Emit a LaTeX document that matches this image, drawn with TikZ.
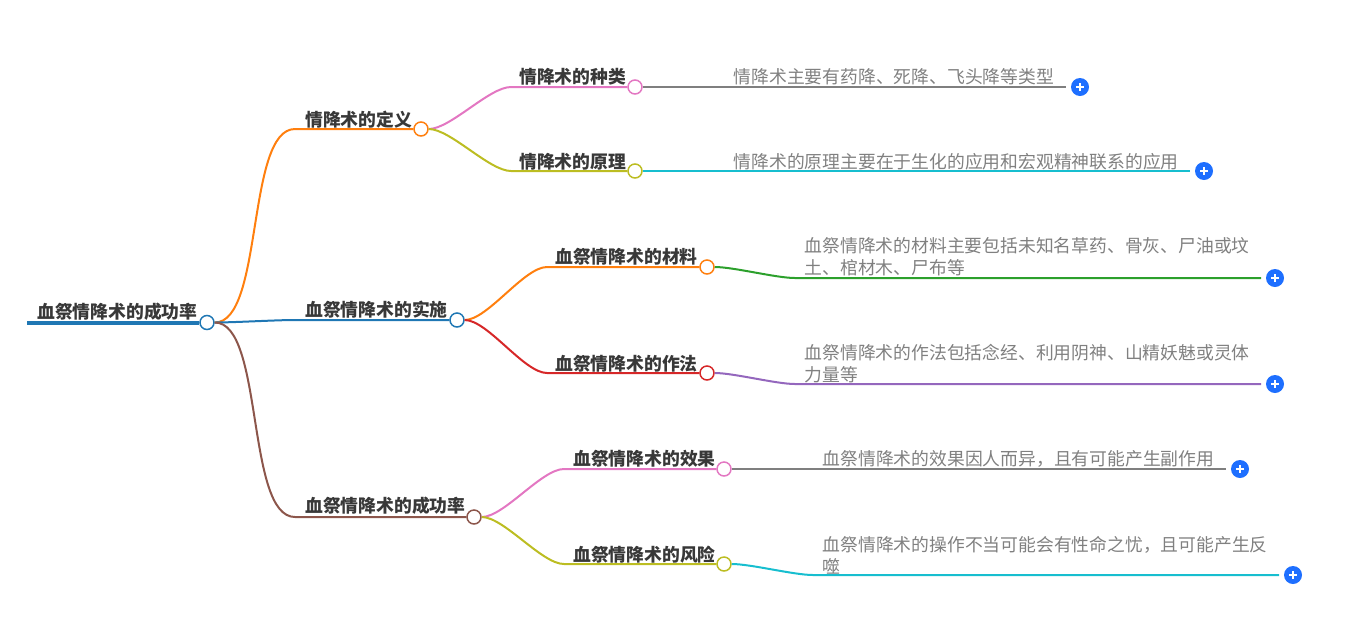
\documentclass[tikz,border=0pt]{standalone}
\usepackage{fontspec}
\setmainfont{Noto Sans CJK SC}
\usepackage{xcolor}
\usetikzlibrary{calc,positioning}
\definecolor{mapBlue}{HTML}{1F77B4}
\definecolor{mapOrange}{HTML}{FF7F0E}
\definecolor{mapBrown}{HTML}{8C564B}
\definecolor{mapPink}{HTML}{E377C2}
\definecolor{mapOlive}{HTML}{BCBD22}
\definecolor{mapRed}{HTML}{D62728}
\definecolor{mapGreen}{HTML}{2CA02C}
\definecolor{mapPurple}{HTML}{9467BD}
\definecolor{mapGray}{HTML}{7F7F7F}
\definecolor{mapCyan}{HTML}{17BECF}
\definecolor{plusBlue}{HTML}{1E6FFF}
\tikzset{
  topic/.style={anchor=west, inner sep=0pt, font=\fontsize{17.8}{22}\selectfont\bfseries, text=black!78},
  detail/.style={anchor=west, inner sep=0pt, align=left, font=\fontsize{17.8}{22}\selectfont, text=black!50},
  dot/.style={circle, draw=#1, fill=white, line width=1.5pt, minimum size=14pt, inner sep=0pt},
  link/.style={line width=2pt, draw=#1},
  addbtn/.style={circle, fill=plusBlue, minimum size=18pt, inner sep=0pt, path picture={
    \draw[white, line width=1.4pt] ($(path picture bounding box.center)+(-4,0)$) -- ++(8,0);
    \draw[white, line width=1.4pt] ($(path picture bounding box.center)+(0,-4)$) -- ++(0,8);
  }}
}
% curve out of a dot, into a bend, then straight on
\newcommand{\DrawLink}[4]{%
  \draw[link=#4] (#1.east) to[out=0, in=180, looseness=0.6] (#2) -- (#3);
}
\begin{document}
\begin{tikzpicture}[x=1pt, y=-1pt]
  \useasboundingbox (0,0) rectangle (1367,625);
  % root
  \coordinate (rootStart) at (27,322.5);
  \node[dot=mapBlue] (root) at (207,322.5) {};
  \node[dot=mapOrange] (defDot) at (421,129) {};
  \node[dot=mapBlue] (useDot) at (457,320) {};
  \node[dot=mapBrown] (rateDot) at (474,517) {};
  \coordinate (defBend) at (295,129);
  \coordinate (useBend) at (295,320);
  \coordinate (rateBend) at (295,517);
  % second level
  \node[dot=mapPink] (kindDot) at (635,87) {};
  \node[dot=mapOlive] (ideaDot) at (635,171) {};
  \node[dot=mapOrange] (stuffDot) at (707,267) {};
  \node[dot=mapRed] (wayDot) at (707,373) {};
  \node[dot=mapPink] (effectDot) at (724,469) {};
  \node[dot=mapOlive] (riskDot) at (724,564) {};
  \coordinate (kindBend) at (511,87);
  \coordinate (ideaBend) at (511,171);
  \coordinate (stuffBend) at (547,267);
  \coordinate (wayBend) at (547,373);
  \coordinate (effectBend) at (564,469);
  \coordinate (riskBend) at (564,564);
  % third level
  \coordinate (kindBendB) at (720,87);
  \coordinate (ideaBendB) at (720,171);
  \coordinate (stuffBendB) at (795,278);
  \coordinate (wayBendB) at (795,384);
  \coordinate (effectBendB) at (812,469);
  \coordinate (riskBendB) at (813,575);
  \coordinate (kindEnd) at (1066,87);
  \coordinate (ideaEnd) at (1190,171);
  \coordinate (stuffEnd) at (1261,278);
  \coordinate (wayEnd) at (1261,384);
  \coordinate (effectEnd) at (1226,469);
  \coordinate (riskEnd) at (1279,575);

  % connectors
  \DrawLink{kindDot}{kindBendB}{kindEnd}{mapGray}
  \DrawLink{ideaDot}{ideaBendB}{ideaEnd}{mapCyan}
  \DrawLink{stuffDot}{stuffBendB}{stuffEnd}{mapGreen}
  \DrawLink{wayDot}{wayBendB}{wayEnd}{mapPurple}
  \DrawLink{effectDot}{effectBendB}{effectEnd}{mapGray}
  \DrawLink{riskDot}{riskBendB}{riskEnd}{mapCyan}
  \DrawLink{defDot}{kindBend}{kindDot}{mapPink}
  \DrawLink{defDot}{ideaBend}{ideaDot}{mapOlive}
  \DrawLink{useDot}{stuffBend}{stuffDot}{mapOrange}
  \DrawLink{useDot}{wayBend}{wayDot}{mapRed}
  \DrawLink{rateDot}{effectBend}{effectDot}{mapPink}
  \DrawLink{rateDot}{riskBend}{riskDot}{mapOlive}
  \DrawLink{root}{defBend}{defDot}{mapOrange}
  \DrawLink{root}{useBend}{useDot}{mapBlue}
  \DrawLink{root}{rateBend}{rateDot}{mapBrown}
  \draw[mapBlue, line width=4pt] (rootStart) -- (root);

  % labels
  \node[topic] (rootText) at (37,312) {血祭情降术的成功率};
  \node[topic] (defText) at (305,120) {情降术的定义};
  \node[topic] (useText) at (305,310) {血祭情降术的实施};
  \node[topic] (rateText) at (305,506) {血祭情降术的成功率};
  \node[topic] (kindText) at (519,77) {情降术的种类};
  \node[topic] (ideaText) at (519,162) {情降术的原理};
  \node[topic] (stuffText) at (555,257) {血祭情降术的材料};
  \node[topic] (wayText) at (555,364) {血祭情降术的作法};
  \node[topic] (effectText) at (573,459) {血祭情降术的效果};
  \node[topic] (riskText) at (573,555) {血祭情降术的风险};
  \node[detail] (kindInfo) at (733.5,77) {情降术主要有药降、死降、飞头降等类型};
  \node[detail] (ideaInfo) at (733.5,162) {情降术的原理主要在于生化的应用和宏观精神联系的应用};
  \node[detail] (stuffInfo) at (804.5,257) {血祭情降术的材料主要包括未知名草药、骨灰、尸油或坟\\土、棺材木、尸布等};
  \node[detail] (wayInfo) at (804.5,364) {血祭情降术的作法包括念经、利用阴神、山精妖魅或灵体\\力量等};
  \node[detail] (effectInfo) at (822.5,459) {血祭情降术的效果因人而异，且有可能产生副作用};
  \node[detail] (riskInfo) at (822.5,555) {血祭情降术的操作不当可能会有性命之忧，且可能产生反\\噬};

  % expand buttons
  \node[addbtn] (kindAdd) at (1080,87) {};
  \node[addbtn] (ideaAdd) at (1204,171) {};
  \node[addbtn] (stuffAdd) at (1275,278) {};
  \node[addbtn] (wayAdd) at (1275,384) {};
  \node[addbtn] (effectAdd) at (1240,469) {};
  \node[addbtn] (riskAdd) at (1293,575) {};
\end{tikzpicture}
\end{document}
